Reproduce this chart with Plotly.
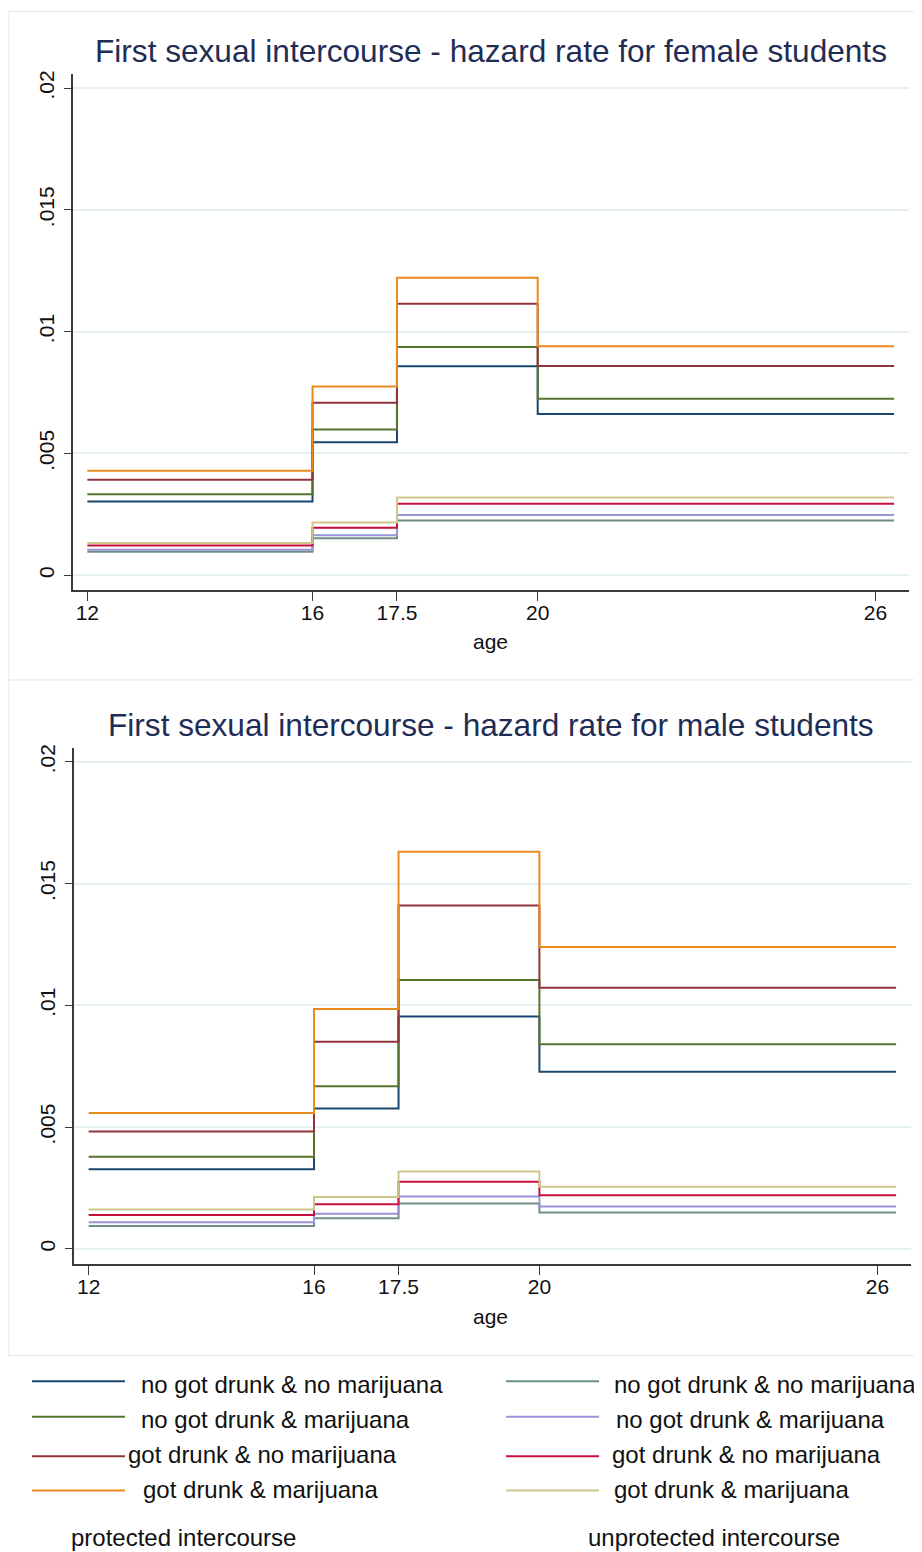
import plotly.graph_objects as go

# The page body has an 8px default margin, so the figure is made 8px smaller
# and every page-pixel position below is converted with that offset.
PAGE_W, PAGE_H = 922, 1552
OFF = 8
W, H = PAGE_W - OFF, PAGE_H - OFF

# ---------------- data ----------------
age_breaks = [12, 16, 17.5, 20, 26.33]          # step start points + end of last interval
x_tick_vals = [12, 16, 17.5, 20, 26]
x_tick_text = ["12", "16", "17.5", "20", "26"]
y_tick_vals = [0, 0.005, 0.01, 0.015, 0.02]
y_tick_text = ["0", ".005", ".01", ".015", ".02"]

group_labels = ["no got drunk & no marijuana", "no got drunk & marijuana",
                "got drunk & no marijuana", "got drunk & marijuana"]
prot_colors = ["#1a476f", "#55752f", "#90353b", "#e98a1c"]
unprot_colors = ["#6e8e84", "#9a94d8", "#c8103e", "#cfc78a"]

# hazard per interval [12-16, 16-17.5, 17.5-20, 20-26]
female_protected = [
    [0.00303, 0.00546, 0.00858, 0.00662],
    [0.00332, 0.00598, 0.00937, 0.00725],
    [0.00392, 0.00708, 0.01115, 0.00859],
    [0.00429, 0.00775, 0.01221, 0.00940],
]
female_unprotected = [
    [0.00096, 0.00152, 0.00225, 0.00225],
    [0.00104, 0.00164, 0.00247, 0.00247],
    [0.00122, 0.00195, 0.00293, 0.00293],
    [0.00132, 0.00216, 0.00319, 0.00319],
]
male_protected = [
    [0.00327, 0.00576, 0.00954, 0.00727],
    [0.00378, 0.00668, 0.01104, 0.00840],
    [0.00482, 0.00851, 0.01410, 0.01072],
    [0.00558, 0.00985, 0.01631, 0.01240],
]
male_unprotected = [
    [0.00094, 0.00126, 0.00186, 0.00149],
    [0.00109, 0.00144, 0.00215, 0.00174],
    [0.00139, 0.00183, 0.00276, 0.00220],
    [0.00162, 0.00213, 0.00318, 0.00255],
]

titles = ["First sexual intercourse - hazard rate for female students",
          "First sexual intercourse - hazard rate for male students"]
x_title = "age"
caption_left = "protected intercourse"
caption_right = "unprotected intercourse"

# ---------------- helpers ----------------
def px(x):
    return (x - OFF) / W


def py(y):
    return 1 - (y - OFF) / H


FONT = "Liberation Sans, Arial, Helvetica, sans-serif"
TITLE_COLOR = "#1f2d56"
AXIS_COLOR = "#3a3a3a"
GRID_COLOR = "#e6eff3"

fig = go.Figure()

panels = [
    dict(prot=female_protected, unprot=female_unprotected, xa="x", ya="y"),
    dict(prot=male_protected, unprot=male_unprotected, xa="x2", ya="y2"),
]

for p in panels:
    series = [(v, c) for v, c in zip(p["unprot"], unprot_colors)] + \
             [(v, c) for v, c in zip(p["prot"], prot_colors)]
    for vals, col in series:
        fig.add_trace(go.Scatter(
            x=age_breaks, y=vals + [vals[-1]],
            mode="lines", line=dict(color=col, width=2, shape="hv"),
            xaxis=p["xa"], yaxis=p["ya"], showlegend=False, hoverinfo="skip",
        ))

x_range = [11.74, 26.59]
y_range = [-0.000615, 0.020586]

common_x = dict(range=x_range, tickmode="array", tickvals=x_tick_vals, ticktext=x_tick_text,
                showgrid=False, zeroline=False, showline=True, linecolor=AXIS_COLOR, linewidth=1.5,
                ticks="outside", ticklen=9, tickwidth=1.3, tickcolor=AXIS_COLOR,
                ticklabelstandoff=-6,
                tickfont=dict(family=FONT, size=21, color="#111"), fixedrange=True)
common_y = dict(range=y_range, tickmode="array", tickvals=y_tick_vals, ticktext=y_tick_text,
                showgrid=True, gridcolor=GRID_COLOR, gridwidth=1.5, zeroline=False,
                showline=True, linecolor=AXIS_COLOR, linewidth=1.5,
                ticks="outside", ticklen=7, tickwidth=1.3, tickcolor=AXIS_COLOR, tickangle=-90,
                ticklabelstandoff=2,
                tickfont=dict(family=FONT, size=21, color="#111"), fixedrange=True)

fig.update_layout(
    width=W, height=H,
    margin=dict(l=0, r=0, t=0, b=0),
    paper_bgcolor="white", plot_bgcolor="white",
    showlegend=False,
    xaxis=dict(common_x, domain=[px(72.7), px(908.7)], anchor="y"),
    yaxis=dict(common_y, domain=[py(588.3), py(71)], anchor="x"),
    xaxis2=dict(common_x, domain=[px(74), px(910.7)], anchor="y2"),
    yaxis2=dict(common_y, domain=[py(1263.3), py(746)], anchor="x2"),
)

shapes = []
# panel borders
for (y0, y1) in [(8.5, 678), (678, 1355)]:
    shapes.append(dict(type="rect", xref="paper", yref="paper",
                       x0=px(8.5), x1=px(930), y0=py(y1), y1=py(y0),
                       line=dict(color="#eaf0f2", width=1.5), fillcolor="rgba(0,0,0,0)",
                       layer="below"))

annotations = []
# titles & axis titles
for title, ty, ay in zip(titles, [48, 723], [640, 1316]):
    annotations.append(dict(text=title, xref="paper", yref="paper", x=px(491), y=py(ty),
                            showarrow=False, xanchor="center", yanchor="middle",
                            font=dict(family=FONT, size=31.6, color=TITLE_COLOR)))
    annotations.append(dict(text=x_title, xref="paper", yref="paper", x=px(490), y=py(ay),
                            showarrow=False, xanchor="center", yanchor="middle",
                            font=dict(family=FONT, size=21, color="#111")))

# legend (drawn manually to mimic the two-column layout)
row_line_y = [1381, 1416.5, 1456, 1490.5]
row_text_y = [1384, 1419, 1454, 1489]
left_text_x = [139, 139, 126, 141]
right_text_x = [612, 614, 610, 612]
for i, lab in enumerate(group_labels):
    shapes.append(dict(type="line", xref="paper", yref="paper",
                       x0=px(32), x1=px(125), y0=py(row_line_y[i]), y1=py(row_line_y[i]),
                       line=dict(color=prot_colors[i], width=2)))
    shapes.append(dict(type="line", xref="paper", yref="paper",
                       x0=px(506), x1=px(599), y0=py(row_line_y[i]), y1=py(row_line_y[i]),
                       line=dict(color=unprot_colors[i], width=2)))
    annotations.append(dict(text=lab, xref="paper", yref="paper", x=px(left_text_x[i]),
                            y=py(row_text_y[i]), showarrow=False, xanchor="left", yanchor="middle",
                            font=dict(family=FONT, size=24, color="#111")))
    annotations.append(dict(text=lab, xref="paper", yref="paper", x=px(right_text_x[i]),
                            y=py(row_text_y[i]), showarrow=False, xanchor="left", yanchor="middle",
                            font=dict(family=FONT, size=24, color="#111")))

annotations.append(dict(text=caption_left, xref="paper", yref="paper", x=px(183), y=py(1537),
                        showarrow=False, xanchor="center", yanchor="middle",
                        font=dict(family=FONT, size=24, color="#111")))
annotations.append(dict(text=caption_right, xref="paper", yref="paper", x=px(714), y=py(1537),
                        showarrow=False, xanchor="center", yanchor="middle",
                        font=dict(family=FONT, size=24, color="#111")))

fig.update_layout(shapes=shapes, annotations=annotations)

fig.write_html("out.html")
